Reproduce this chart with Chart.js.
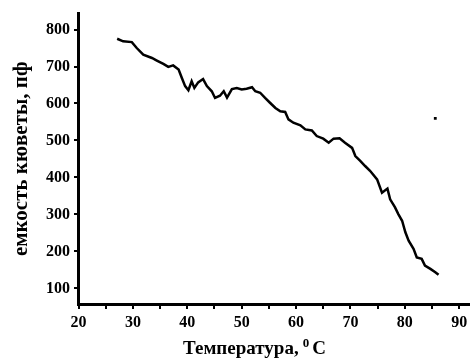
<!DOCTYPE html>
<html>
<head>
<meta charset="utf-8">
<script src="https://cdn.jsdelivr.net/npm/chart.js@4/dist/chart.umd.min.js"></script>
<style>
  html, body { margin: 0; padding: 0; background: #fff; }
  #wrap { width: 475px; height: 364px; }
</style>
</head>
<body>
<div id="wrap"><canvas id="c" width="475" height="364"></canvas></div>
<script>
// Temperature (°C) of the measured trace
const temperature = [
  27.1, 28.2, 29.8, 30.7, 31.9, 33.5, 34.4, 35.6, 36.5, 37.4, 38.4, 39.0, 39.6, 40.2,
  40.8, 41.3, 42.0, 42.9, 43.6, 44.5, 45.1, 46.0, 46.7, 47.3, 48.2, 49.1, 50.0, 50.9,
  51.9, 52.5, 53.4, 54.3, 55.2, 56.2, 57.1, 58.0, 58.6, 59.5, 60.8, 61.7, 62.9, 63.8,
  65.0, 66.0, 66.9, 68.0, 69.0, 70.3, 70.9, 71.8, 72.7, 73.6, 74.9, 75.8, 76.8, 77.3,
  78.2, 78.8, 79.5, 80.1, 80.7, 81.6, 82.2, 83.1, 83.7, 84.7, 85.6, 86.2
];
// Cuvette capacitance (pF)
const capacitance = [
  775, 768, 766, 750, 732, 723, 716, 707, 699, 703, 692, 669, 647, 636,
  660, 642, 657, 666, 647, 633, 615, 621, 633, 616, 639, 642, 638, 640,
  644, 633, 629, 615, 602, 588, 579, 577, 557, 548, 541, 530, 527, 512,
  505, 494, 505, 506, 494, 480, 458, 445, 431, 418, 395, 359, 370, 341,
  319, 301, 283, 252, 229, 207, 184, 180, 162, 153, 144, 137
];
// Isolated point
const outlierT = [85.6];
const outlierC = [560];

const xTicks = [20, 25, 30, 35, 40, 45, 50, 55, 60, 65, 70, 75, 80, 85, 90];
const yTicks = [100, 200, 300, 400, 500, 600, 700, 800];
const xTitle = 'Температура,';
const xTitleSup = '0';
const xTitleUnit = 'С';
const yTitle = 'емкость кюветы, пф';

const FONT = '"Liberation Serif", "Times New Roman", serif';

const xTitlePlugin = {
  id: 'xTitlePlugin',
  afterDraw(chart) {
    const ctx = chart.ctx;
    ctx.save();
    ctx.fillStyle = '#000';
    ctx.textBaseline = 'alphabetic';
    ctx.textAlign = 'left';
    let x = 183, y = 354;
    ctx.font = 'bold 19px ' + FONT;
    ctx.fillText(xTitle, x, y);
    x += ctx.measureText(xTitle).width + 4;
    ctx.font = 'bold 13px ' + FONT;
    ctx.fillText(xTitleSup, x, y - 7);
    x += ctx.measureText(xTitleSup).width + 3;
    ctx.font = 'bold 19px ' + FONT;
    ctx.fillText(xTitleUnit, x, y);
    ctx.restore();
  }
};

new Chart(document.getElementById('c'), {
  type: 'line',
  data: {
    datasets: [
      {
        data: temperature.map((t, i) => ({ x: t, y: capacitance[i] })),
        borderColor: '#000',
        borderWidth: 2.5,
        pointRadius: 0,
        tension: 0,
        fill: false
      },
      {
        type: 'scatter',
        data: outlierT.map((t, i) => ({ x: t, y: outlierC[i] })),
        pointStyle: 'rect',
        pointRadius: 2,
        backgroundColor: '#000',
        borderColor: '#000',
        borderWidth: 0
      }
    ]
  },
  options: {
    responsive: false,
    animation: false,
    layout: { padding: { left: 0, right: 6, top: 12, bottom: 0 } },
    plugins: { legend: { display: false }, tooltip: { enabled: false } },
    scales: {
      x: {
        type: 'linear',
        min: 19.9,
        max: 91.8,
        afterFit(s) { s.height = 60; },
        afterBuildTicks(s) { s.ticks = xTicks.map(v => ({ value: v })); },
        border: { display: true, color: '#000', width: 3 },
        grid: { display: true, drawOnChartArea: false, drawTicks: true, tickLength: 5, color: '#000', lineWidth: 2 },
        ticks: {
          color: '#000',
          font: { family: FONT, size: 16, weight: 'bold' },
          padding: 4,
          maxRotation: 0,
          autoSkip: false,
          callback: v => (v % 10 === 0 ? String(v) : '')
        }
      },
      y: {
        type: 'linear',
        min: 58,
        max: 843,
        afterFit(s) { s.width = 78; },
        afterBuildTicks(s) { s.ticks = yTicks.map(v => ({ value: v })); },
        border: { display: true, color: '#000', width: 3 },
        grid: { display: true, drawOnChartArea: false, drawTicks: true, tickLength: 4, color: '#000', lineWidth: 2 },
        ticks: {
          color: '#000',
          font: { family: FONT, size: 16, weight: 'bold' },
          padding: 4,
          autoSkip: false,
          callback: v => String(v)
        },
        title: {
          display: true,
          text: yTitle,
          color: '#000',
          font: { family: FONT, size: 21, weight: 'bold' },
          padding: { top: 9, bottom: 0 }
        }
      }
    }
  },
  plugins: [xTitlePlugin]
});
</script>
</body>
</html>
